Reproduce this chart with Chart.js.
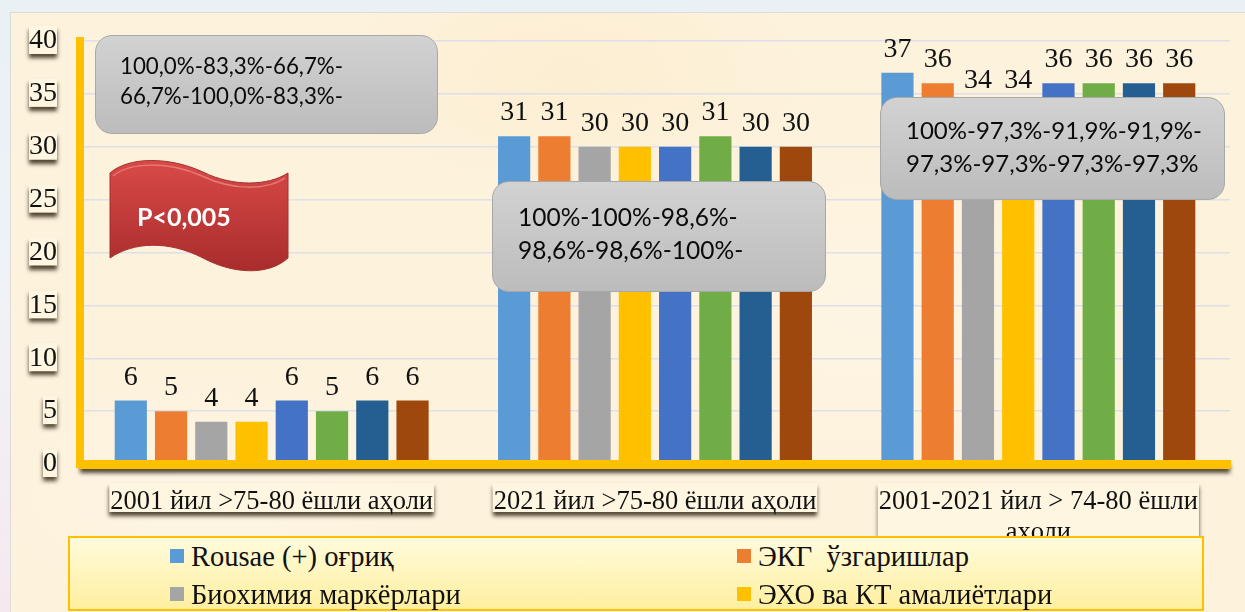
<!DOCTYPE html>
<html>
<head>
<meta charset="utf-8">
<script src="https://cdn.jsdelivr.net/npm/chart.js@4/dist/chart.umd.min.js"></script>
<style>
html, body { margin: 0; padding: 0; }
body { width: 1245px; height: 612px; overflow: hidden; position: relative;
	background: linear-gradient(180deg, #e9f1f4 0%, #f0f2f6 50%, #f6e9ee 100%); }
.panel { position: absolute; left: 10px; top: 12px; width: 1235px; height: 600px; box-sizing: border-box;
	border-left: 1px solid #dcdcdc; border-top: 1px solid #dcdcdc;
	background:
		radial-gradient(ellipse 220px 120px at 200px 480px, rgba(255,255,255,.25), transparent),
		radial-gradient(ellipse 300px 160px at 860px 300px, rgba(255,255,255,.22), transparent),
		radial-gradient(ellipse 260px 120px at 560px 60px, rgba(250,232,195,.4), transparent),
		#fdf2dc; }
canvas { position: absolute; left: 0; top: 0; }
.note { position: absolute; box-sizing: border-box; border: 1px solid #a8a8a8; border-radius: 17px;
	background: linear-gradient(180deg, #d2d2d2, #bcbcbc); color: #0a0a0a; font-family: Lato, sans-serif; white-space: nowrap; }
.note div { position: absolute; line-height: 30px; }
#flag { position: absolute; left: 108px; top: 158px; }
.legendbox { position: absolute; left: 68px; top: 536px; width: 1136px; height: 75px; box-sizing: border-box;
	border: 2px solid #ffc000; background: linear-gradient(180deg, #fffbdc, #ffef9f); }
.lg { position: absolute; font: 28.5px "Liberation Serif", serif; color: #111; white-space: pre; line-height: 30px; height: 30px; }
.lg i { position: absolute; width: 14px; height: 14px; }
</style>
</head>
<body>
<div class="panel"></div>
<canvas id="chart" width="1245" height="612"></canvas>

<div class="note" style="left:95px;top:35px;width:343px;height:99px;font-size:22.3px">
	<div style="left:24px;top:15px">100,0%-83,3%-66,7%-</div>
	<div style="left:24px;top:45px">66,7%-100,0%-83,3%-</div>
</div>
<div class="note" style="left:492px;top:181px;width:334px;height:111px;font-size:24.5px">
	<div style="left:25px;top:20px">100%-100%-98,6%-</div>
	<div style="left:25px;top:53px">98,6%-98,6%-100%-</div>
</div>
<div class="note" style="left:880px;top:97px;width:345px;height:103px;font-size:24px">
	<div style="left:25px;top:17px">100%-97,3%-91,9%-91,9%-</div>
	<div style="left:25px;top:50px">97,3%-97,3%-97,3%-97,3%</div>
</div>

<svg id="flag" width="184" height="116" viewBox="0 0 184 116">
	<defs>
		<linearGradient id="red" x1="0" y1="0" x2="0" y2="1">
			<stop offset="0" stop-color="#d84a48"/>
			<stop offset="1" stop-color="#a92c2c"/>
		</linearGradient>
	</defs>
	<path d="M2 15 C20 -1 60 -2 95 14 C125 29 160 28 180 15 L180 100 C160 118 125 116 95 100 C60 82 25 84 2 100 Z"
		fill="url(#red)" stroke="#a83030" stroke-width="1"/>
	<path d="M5 18 C22 4 60 3 94 18 C125 33 160 32 177 20" fill="none" stroke="#e77a76" stroke-width="1.5"/>
	<text x="29" y="68" fill="#fff" font-family="Lato, sans-serif" font-weight="700" font-size="25">P&lt;0,005</text>
</svg>

<div class="legendbox"></div>
<div id="legend"></div>

<script>
const categories = [
	'2001 йил >75-80 ёшли аҳоли',
	'2021 йил >75-80 ёшли аҳоли',
	['2001-2021 йил > 74-80 ёшли', 'аҳоли']
];
// only the first four names can be read, the rest of the legend is cut off in the picture
const seriesNames = ['Rousae (+) оғриқ', 'ЭКГ  ўзгаришлар', 'Биохимия маркёрлари', 'ЭХО ва КТ амалиётлари', '', '', '', ''];
const series1 = [6, 31, 37];
const series2 = [5, 31, 36];
const series3 = [4, 30, 34];
const series4 = [4, 30, 34];
const series5 = [6, 30, 36];
const series6 = [5, 31, 36];
const series7 = [6, 30, 36];
const series8 = [6, 30, 36];
const colors = ['#5B9BD5', '#ED7D31', '#A5A5A5', '#FFC000', '#4472C4', '#70AD47', '#255E91', '#9E480E'];

const allSeries = [series1, series2, series3, series4, series5, series6, series7, series8];
const serif = '"Liberation Serif", serif';
const xFont = '26.5px ' + serif;

// cream plates with a dark shadow behind the tick labels + shadow under the x axis
const labelPlates = {
	id: 'labelPlates',
	beforeDraw(chart) {
		const ctx = chart.ctx, area = chart.chartArea;
		const xs = chart.scales.x, ys = chart.scales.y;
		ctx.save();
		ctx.fillStyle = '#fff6e2';
		ctx.shadowColor = 'rgba(50,40,20,.85)';
		ctx.shadowBlur = 4;
		ctx.shadowOffsetY = 4;
		ctx.font = '28px ' + serif;
		ys.ticks.forEach((t, i) => {
			const w = ctx.measureText(String(t.value)).width;
			ctx.fillRect(57 - w, ys.getPixelForTick(i) - 15, w, 28);
		});
		ctx.font = xFont;
		categories.forEach((c, i) => {
			const text = Array.isArray(c) ? c[0] : c;
			const w = ctx.measureText(text).width + 2;
			const h = Array.isArray(c) ? 70 : 29;
			ctx.fillRect(xs.getPixelForTick(i) - w / 2, 483, w, h);
		});
		ctx.fillStyle = '#FFC000';
		ctx.fillRect(area.left, area.bottom - 4, area.right - area.left, 9);
		ctx.restore();
	}
};

// value above each bar
const barValues = {
	id: 'barValues',
	afterDatasetsDraw(chart) {
		const ctx = chart.ctx;
		ctx.save();
		ctx.font = '28px ' + serif;
		ctx.fillStyle = '#111';
		ctx.textAlign = 'center';
		ctx.textBaseline = 'alphabetic';
		chart.data.datasets.forEach((ds, i) => {
			chart.getDatasetMeta(i).data.forEach((bar, j) => {
				ctx.fillText(ds.data[j], bar.x, bar.y - 16);
			});
		});
		ctx.restore();
	}
};

new Chart(document.getElementById('chart'), {
	type: 'bar',
	data: {
		labels: categories,
		datasets: allSeries.map((s, i) => ({
			label: seriesNames[i],
			data: s,
			backgroundColor: colors[i],
			categoryPercentage: 0.84,
			barPercentage: 0.8
		}))
	},
	options: {
		responsive: false,
		animation: false,
		layout: { padding: { top: 41, right: 15, left: 0, bottom: 0 } },
		plugins: { legend: { display: false }, tooltip: { enabled: false } },
		scales: {
			x: {
				afterFit(scale) { scale.height = 148; },
				grid: { display: false },
				border: { color: '#FFC000', width: 8, z: 1 },
				ticks: {
					autoSkip: false, maxRotation: 0, padding: 15, color: '#111',
					font: { family: serif, size: 26.5, lineHeight: 1.15 }
				}
			},
			y: {
				min: 0, max: 40,
				afterFit(scale) { scale.width = 80; },
				grid: { color: '#dde0e8', lineWidth: 1.5, drawTicks: false },
				border: { color: '#FFC000', width: 8, z: 1 },
				ticks: {
					stepSize: 5, padding: 23, color: '#111',
					font: { family: serif, size: 28 }
				}
			}
		}
	},
	plugins: [labelPlates, barValues]
});

// legend: two columns, two rows are visible
const legendSpots = [[170, 191, 542], [737, 758, 542], [170, 191, 580], [737, 758, 580]];
const legendEl = document.getElementById('legend');
legendSpots.forEach((p, i) => {
	const row = document.createElement('div');
	row.className = 'lg';
	row.style.left = p[1] + 'px';
	row.style.top = p[2] + 'px';
	row.textContent = seriesNames[i];
	const box = document.createElement('i');
	box.style.left = (p[0] - p[1]) + 'px';
	box.style.top = '7px';
	box.style.background = colors[i];
	row.appendChild(box);
	legendEl.appendChild(row);
});
</script>
</body>
</html>
